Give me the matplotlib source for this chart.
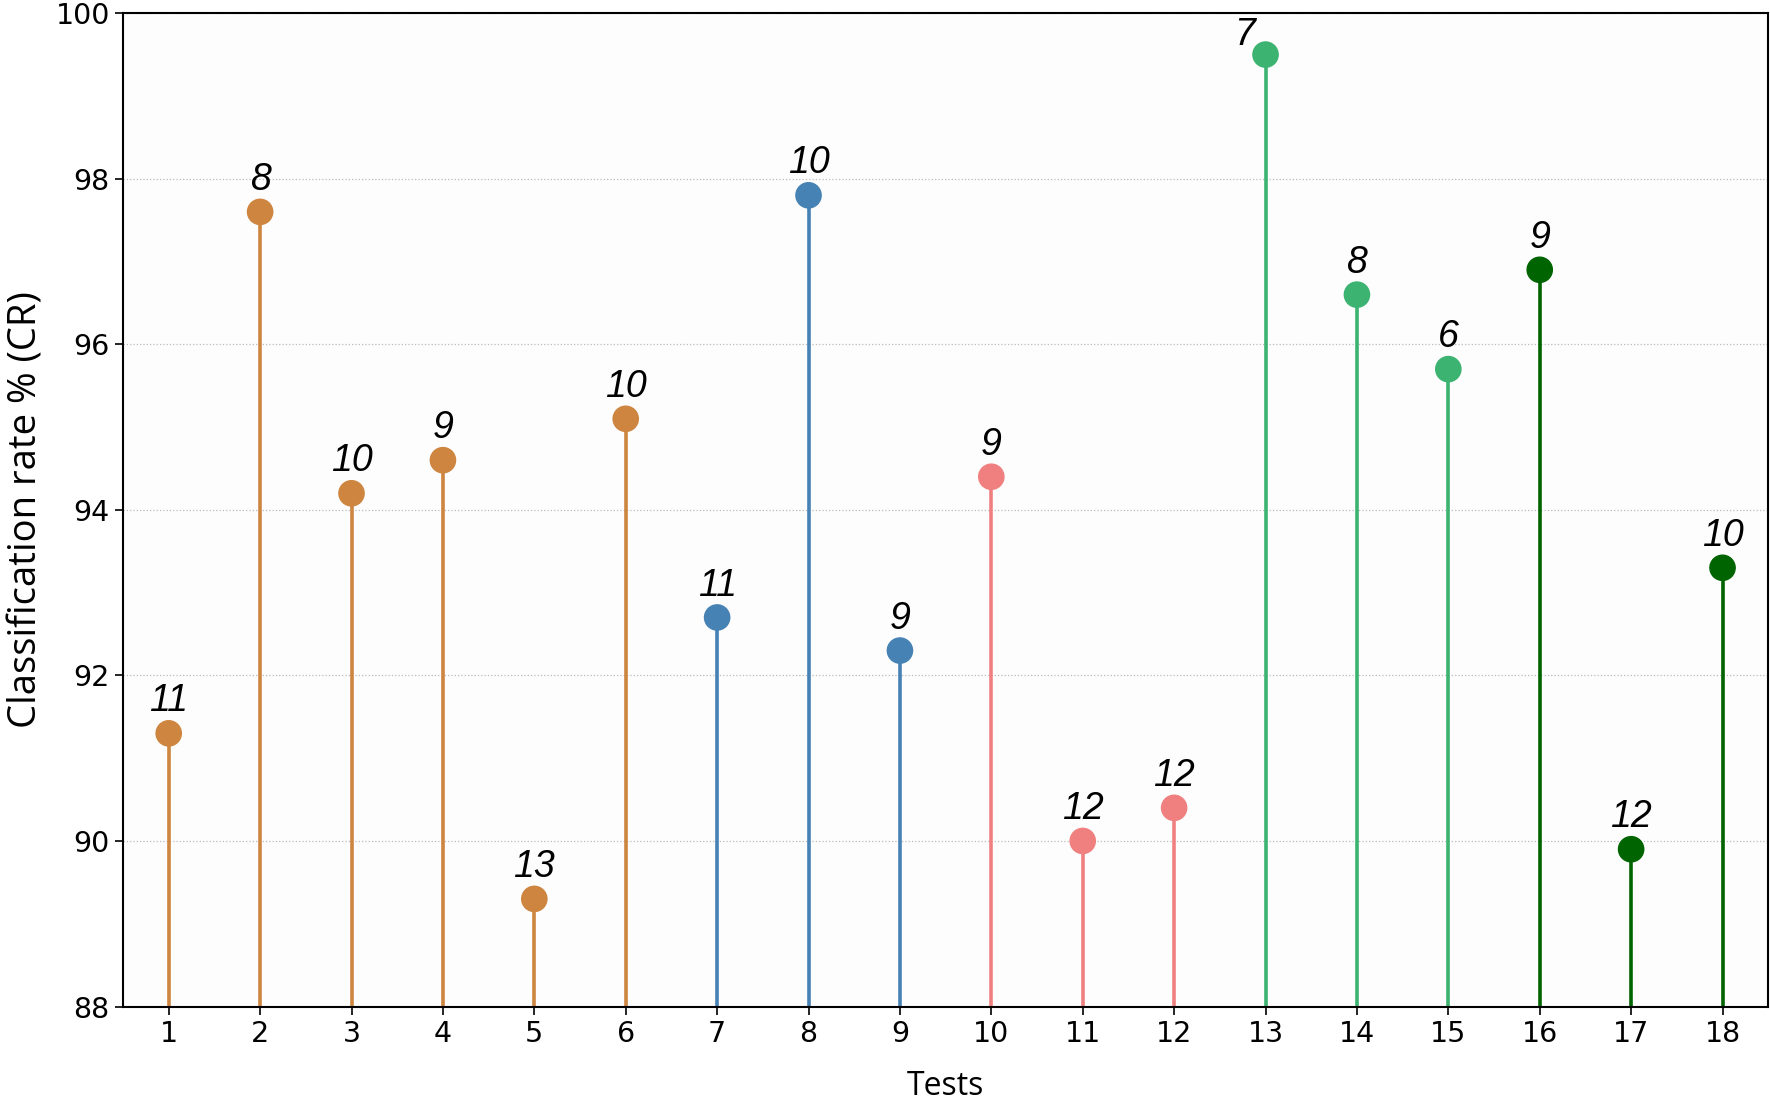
import matplotlib.pyplot as plt
import numpy as np

# test number, classification rate and the number annotated above each point
tests = np.arange(1, 19)
rates = [91.3, 97.6, 94.2, 94.6, 89.3, 95.1,
         92.7, 97.8, 92.3,
         94.4, 90.0, 90.4,
         99.5, 96.6, 95.7,
         96.9, 89.9, 93.3]
counts = [11, 8, 10, 9, 13, 10,
          11, 10, 9,
          9, 12, 12,
          7, 8, 6,
          9, 12, 10]
group_sizes = [6, 3, 3, 3, 3]
group_colors = ["#CD853F", "#4682B4", "#F08080", "#3CB371", "#006400"]

colors = []
for n, c in zip(group_sizes, group_colors):
    colors += [c] * n

fig = plt.figure(figsize=(17.7, 11), dpi=100)
ax = fig.add_axes([0.0695, 0.085, 0.9295, 0.903])
ax.set_facecolor("#fdfdfd")

ymin = 88
ax.vlines(tests, ymin, rates, colors=colors, linewidth=2.6, zorder=2)
ax.scatter(tests, rates, s=330, c=colors, zorder=3)

for t, r, n in zip(tests, rates, counts):
    # the top label is pushed to the upper left of its point
    dx, dy = (-15, 1) if r > 99 else (0, 10)
    ax.annotate(str(n), (t, r), xytext=(dx, dy), textcoords="offset points",
                ha="center", va="bottom", fontsize=27, style="italic",
                family="Liberation Sans")

ax.set_ylim(88, 100)
ax.set_xlim(0.5, 18.5)
ax.set_xticks(tests)
ax.set_yticks(np.arange(88, 101, 2))
ax.tick_params(labelsize=20.5, length=6, width=1.2)
ax.yaxis.grid(True, linestyle=":", color="#bbbbbb", linewidth=0.9)
ax.set_axisbelow(True)
for sp in ax.spines.values():
    sp.set_linewidth(1.5)

ax.set_xlabel("Tests", fontsize=23, family="Open Sans", labelpad=16)
ax.set_ylabel("Classification rate % (CR)", fontsize=27.5, family="Open Sans",
              labelpad=7)

fig.savefig("out.png", dpi=100)
